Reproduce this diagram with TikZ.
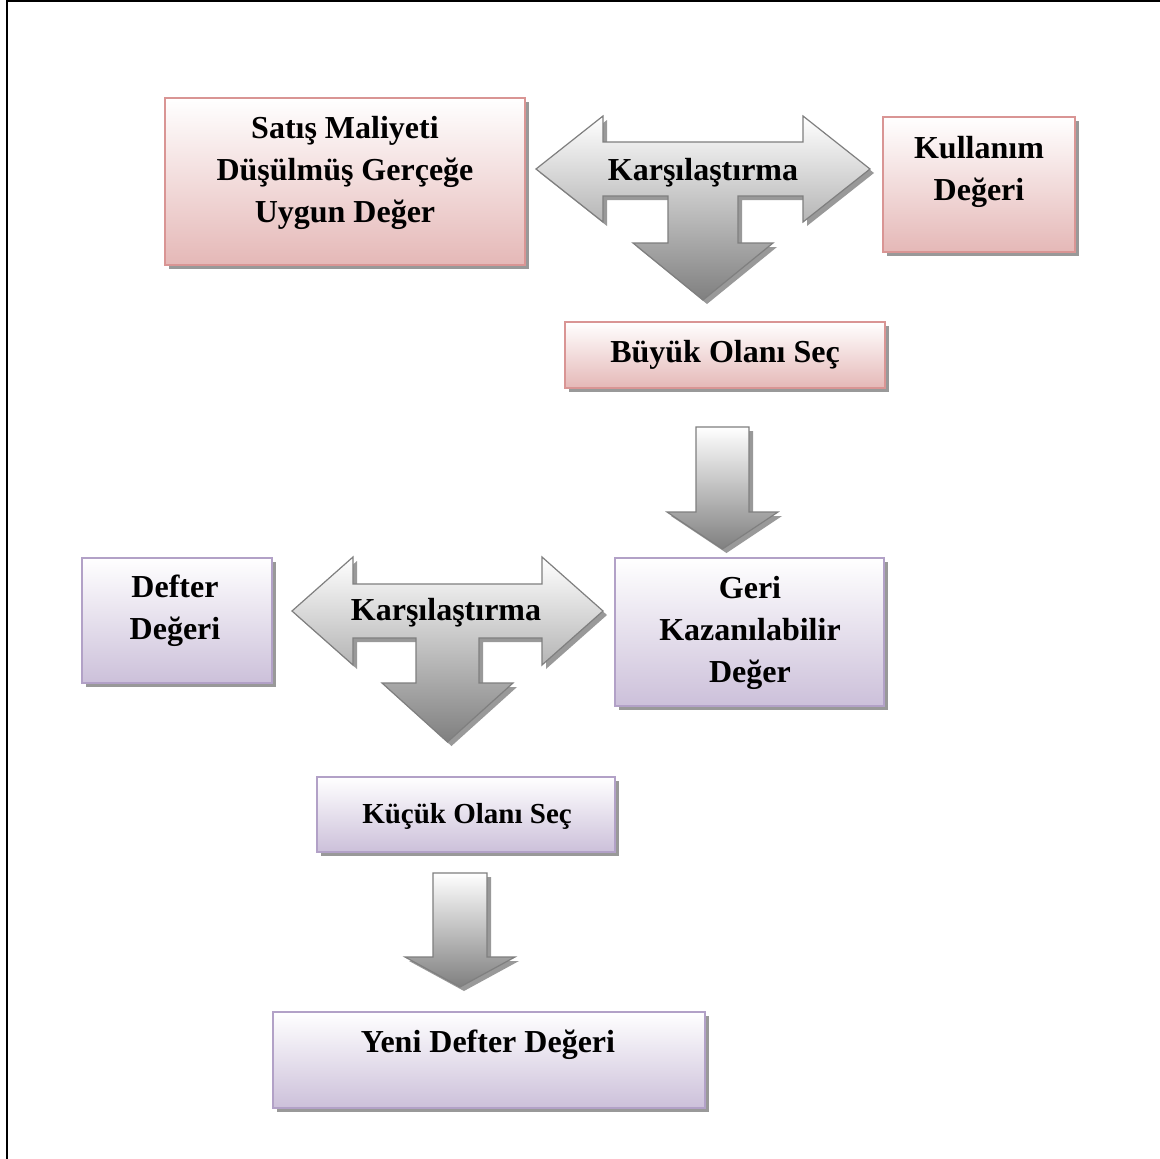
\documentclass[tikz,border=0pt]{standalone}
\usepackage{fontspec}
\setmainfont{Liberation Serif}
\usetikzlibrary{shadows}
\definecolor{pinkbot}{HTML}{E5B8B7}
\definecolor{pinkline}{HTML}{D99594}
\definecolor{purpbot}{HTML}{CCC0DA}
\definecolor{purpline}{HTML}{B2A1C7}
\definecolor{arrline}{HTML}{7F7F7F}
\tikzset{
  boxshadow/.style={drop shadow={shadow xshift=4pt, shadow yshift=-4pt, fill=black!40, opacity=1}},
  pinkbox/.style={rectangle, draw=pinkline, line width=1.6pt, top color=white, bottom color=pinkbot, boxshadow, inner sep=0pt},
  purpbox/.style={rectangle, draw=purpline, line width=1.6pt, top color=white, bottom color=purpbot, boxshadow, inner sep=0pt},
  blockarrow/.style={draw=arrline, line width=1.2pt, top color=white, bottom color=black!50, line join=miter, boxshadow},
  txt/.style={font=\fontsize{32}{42}\selectfont\bfseries, align=center, anchor=base, inner sep=0pt},
  smalltxt/.style={font=\fontsize{29}{38}\selectfont\bfseries, align=center, anchor=base, inner sep=0pt},
}
\begin{document}
\begin{tikzpicture}[x=1pt, y=-1pt]
\useasboundingbox (0,0) rectangle (1160,1159);
\fill[white] (0,0) rectangle (1160,1159);
\draw[line width=2pt] (7,1159) -- (7,1) -- (1160,1);

% boxes
\node[pinkbox, minimum width=360pt, minimum height=167pt] (b1) at (345,181.5) {};
\node[pinkbox, minimum width=192pt, minimum height=135pt] (b2) at (979,184.5) {};
\node[pinkbox, minimum width=320pt, minimum height=66pt] (b3) at (725,355) {};
\node[purpbox, minimum width=190pt, minimum height=125pt] (b4) at (177,620.5) {};
\node[purpbox, minimum width=269pt, minimum height=148pt] (b5) at (749.5,632) {};
\node[purpbox, minimum width=298pt, minimum height=75pt] (b6) at (466,814.5) {};
\node[purpbox, minimum width=432pt, minimum height=96pt] (b7) at (489,1060) {};

% three-way arrow 1
\coordinate (c1) at (703,169);
\draw[blockarrow] ([xshift=-167pt]c1) -- ++(67,-53) -- ++(0,26) -- ++(200,0) -- ++(0,-26)
  -- ++(67,53) -- ++(-67,53) -- ++(0,-26) -- ++(-65,0) -- ++(0,47) -- ++(35,0)
  -- ++(-70,57) -- ++(-70,-57) -- ++(35,0) -- ++(0,-47) -- ++(-65,0) -- ++(0,26) -- cycle;

% down arrow 1
\coordinate (d1) at (722.5,427);
\draw[blockarrow] ([xshift=-26.5pt]d1) -- ++(53,0) -- ++(0,85) -- ++(29,0) -- ++(-55.5,37)
  -- ++(-55.5,-37) -- ++(29,0) -- cycle;

% three-way arrow 2
\coordinate (c2) at (447.5,611);
\draw[blockarrow] ([xshift=-155.5pt]c2) -- ++(61,-54) -- ++(0,27) -- ++(189,0) -- ++(0,-27)
  -- ++(61,54) -- ++(-61,54) -- ++(0,-27) -- ++(-63,0) -- ++(0,45) -- ++(34,0)
  -- ++(-65.5,59) -- ++(-65.5,-59) -- ++(34,0) -- ++(0,-45) -- ++(-63,0) -- ++(0,27) -- cycle;

% down arrow 2
\coordinate (d2) at (460,873);
\draw[blockarrow] ([xshift=-27pt]d2) -- ++(54,0) -- ++(0,84) -- ++(28,0) -- ++(-55,30)
  -- ++(-55,-30) -- ++(28,0) -- cycle;

% texts (base anchor = baseline of the last line)
\node[txt] (t1) at (345,222) {Satış Maliyeti\\Düşülmüş Gerçeğe\\Uygun Değer};
\node[txt] (k1) at (703,180) {Karşılaştırma};
\node[txt] (t2) at (979,200) {Kullanım\\Değeri};
\node[txt] (t3) at (725,362) {Büyük Olanı Seç};
\node[txt] (t4) at (175,639) {Defter\\Değeri};
\node[txt] (k2) at (446,620) {Karşılaştırma};
\node[txt] (t5) at (750,682) {Geri\\Kazanılabilir\\Değer};
\node[smalltxt] (t6) at (467,823) {Küçük Olanı Seç};
\node[txt] (t7) at (488,1052) {Yeni Defter Değeri};
\end{tikzpicture}
\end{document}
